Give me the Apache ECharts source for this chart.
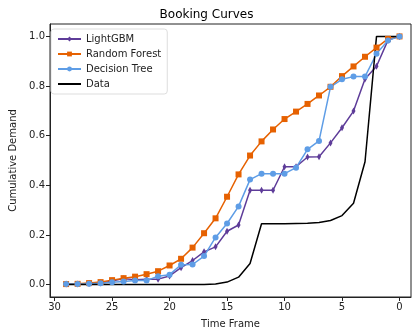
<!DOCTYPE html>
<html>
<head>
<meta charset="utf-8">
<script src="https://cdn.jsdelivr.net/npm/echarts@6/dist/echarts.min.js"></script>
<style>html,body{margin:0;padding:0;background:#fff;}#c{width:413px;height:334px;}</style>
</head>
<body>
<div id="c"></div>
<script>
const timeFrames = [29,28,27,26,25,24,23,22,21,20,19,18,17,16,15,14,13,12,11,10,9,8,7,6,5,4,3,2,1,0];
const lightGBM = [0.002,0.002,0.004,0.006,0.014,0.024,0.020,0.022,0.022,0.035,0.068,0.097,0.132,0.152,0.215,0.240,0.380,0.380,0.380,0.475,0.475,0.514,0.515,0.571,0.632,0.699,0.828,0.880,0.985,1.0];
const randomForest = [0.002,0.003,0.006,0.010,0.018,0.026,0.032,0.042,0.054,0.077,0.104,0.149,0.207,0.267,0.354,0.444,0.520,0.577,0.625,0.667,0.697,0.728,0.762,0.797,0.840,0.879,0.918,0.955,0.990,1.0];
const decisionTree = [0.002,0.002,0.003,0.005,0.009,0.012,0.016,0.016,0.034,0.040,0.080,0.081,0.115,0.190,0.246,0.315,0.423,0.447,0.447,0.447,0.471,0.545,0.579,0.797,0.827,0.838,0.838,0.930,0.984,1.0];
const actualData = [0,0,0,0,0,0,0,0,0,0,0,0,0,0.002,0.010,0.030,0.085,0.245,0.245,0.245,0.246,0.247,0.250,0.258,0.278,0.328,0.495,1.0,1.0,1.0];
const xTicks = [30,25,20,15,10,5,0];
const yTicks = [0,0.2,0.4,0.6,0.8,1.0];

const pairs = arr => timeFrames.map((t,i)=>[t,arr[i]]);
const font = '"DejaVu Sans"';
const chart = echarts.init(document.getElementById('c'), null, {renderer:'canvas'});
chart.setOption({
  animation:false,
  textStyle:{fontFamily:font},
  title:{text:'Booking Curves',left:'center',top:4,textStyle:{fontSize:12,fontWeight:'normal',color:'#000',fontFamily:font}},
  grid:{left:47,right:2,top:24,bottom:35,show:true,borderColor:'#222',borderWidth:1,backgroundColor:'transparent'},
  legend:{
    left:51,top:29,orient:'vertical',itemGap:5,itemWidth:23,itemHeight:6,
    backgroundColor:'#fff',borderColor:'#ddd',borderWidth:1,borderRadius:3,padding:[5,6,5,6],
    textStyle:{fontSize:10,color:'#222',fontFamily:font},
    data:['LightGBM','Random Forest','Decision Tree',{name:'Data',itemStyle:{opacity:0}}]
  },
  xAxis:{
    type:'value',inverse:true,min:-1,max:30.4,
    name:'Time Frame',nameLocation:'middle',nameGap:22,nameTextStyle:{fontSize:10,color:'#222',fontFamily:font},
    splitLine:{show:false},
    axisLine:{show:true,onZero:false,lineStyle:{color:'#222'}},
    axisTick:{show:true,inside:false,length:4,lineStyle:{color:'#222'},customValues:xTicks},
    axisLabel:{fontSize:10,color:'#222',margin:5,customValues:xTicks,formatter:v=>String(v)}
  },
  yAxis:{
    type:'value',min:-0.05,max:1.05,
    name:'Cumulative Demand',nameLocation:'middle',nameGap:32,nameTextStyle:{fontSize:10,color:'#222',fontFamily:font},
    splitLine:{show:false},
    axisLine:{show:true,onZero:false,lineStyle:{color:'#222'}},
    axisTick:{show:true,inside:false,length:4,lineStyle:{color:'#222'},customValues:yTicks},
    axisLabel:{fontSize:10,color:'#222',margin:5,customValues:yTicks,formatter:v=>v.toFixed(1)}
  },
  series:[
    {name:'LightGBM',type:'line',data:pairs(lightGBM),symbol:'diamond',symbolSize:[4,7],showAllSymbol:true,
      lineStyle:{width:1.5,color:'#5e3c99'},itemStyle:{color:'#5e3c99'}},
    {name:'Random Forest',type:'line',data:pairs(randomForest),symbol:'rect',symbolSize:6,showAllSymbol:true,
      lineStyle:{width:1.5,color:'#e66101'},itemStyle:{color:'#e66101'}},
    {name:'Decision Tree',type:'line',data:pairs(decisionTree),symbol:'circle',symbolSize:6,showAllSymbol:true,
      lineStyle:{width:1.5,color:'#5e9de6'},itemStyle:{color:'#5e9de6'}},
    {name:'Data',type:'line',data:pairs(actualData),symbol:'none',
      lineStyle:{width:1.5,color:'#000'},itemStyle:{color:'#000'}}
  ]
});
</script>
</body>
</html>
